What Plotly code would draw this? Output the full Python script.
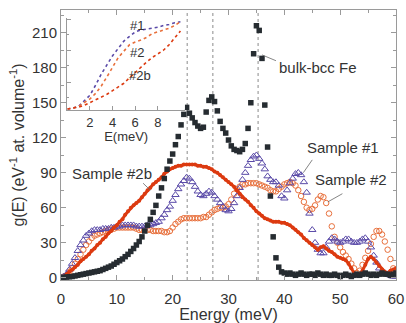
import plotly.graph_objects as go

# ---------------- data ----------------
energy = [i * 0.5 for i in range(121)]  # 0 ... 60 meV, 0.5 meV steps

bulk_fe = [0, 0.3, 0.5, 0.8, 1, 1.5, 2, 2.5, 3, 3.5, 4, 4.5, 5, 5.5, 6, 7, 8, 9, 10, 11.5,
           13, 14.5, 16, 18, 20, 22.5, 25, 28, 31, 35, 40, 45, 50, 56, 62, 70, 77, 85, 93, 100,
           106, 114, 121, 131, 140, 146, 141, 137, 133, 130, 128, 129, 142, 152, 155, 151, 143, 134, 128, 124,
           118, 113, 110, 109, 108, 110, 115, 128, 150, 192, 216, 212, 188, 148, 112, 70, 35, 17, 9, 5,
           4, 3, 4, 3, 2, 3, 4, 3, 2, 3, 3, 2, 4, 3, 2, 3, 2, 2, 3, 2,
           1, 2, 3, 2, 1, 2, 3, 2, 3, 4, 3, 2, 3, 2, 3, 4, 3, 3, 2, 3, 4]

sample1 = [0, 1, 3, 7, 12, 17, 23, 28, 32, 36, 38, 40, 41, 41, 41, 42, 42, 42, 43, 43,
           44, 44, 45, 45, 45, 45, 45, 44, 44, 44, 44, 45, 45, 46, 47, 48, 51, 54, 58, 61,
           66, 71, 76, 80, 83, 86, 85, 82, 78, 74, 71, 70, 72, 74, 73, 70, 67, 64, 61, 58,
           57, 59, 64, 70, 77, 84, 90, 96, 101, 104, 105, 102, 98, 93, 87, 84, 82, 82, 79, 70,
           68, 75, 81, 85, 89, 90, 88, 82, 73, 55, 41, 30, 24, 21, 21, 26, 31, 34, 33, 31,
           30, 31, 33, 33, 31, 30, 30, 31, 33, 34, 31, 26, 19, 13, 8, 5, 4, 3, 2, 1, 1]

sample2 = [0, 1, 2, 5, 8, 12, 16, 20, 24, 28, 31, 34, 36, 37, 38, 39, 40, 41, 42, 42,
           43, 43, 43, 43, 43, 43, 43, 42, 41, 41, 41, 41, 41, 40, 40, 40, 40, 39, 39, 40,
           43, 46, 48, 50, 51, 51, 51, 51, 51, 51, 51, 52, 52, 54, 56, 58, 59, 60, 60, 61,
           63, 67, 72, 76, 78, 80, 80, 81, 81, 81, 81, 80, 79, 78, 77, 75, 74, 74, 76, 78,
           80, 81, 82, 81, 79, 75, 70, 65, 60, 58, 59, 62, 67, 70, 69, 64, 55, 44, 35, 30,
           26, 22, 19, 16, 12, 8, 4, 6, 11, 17, 23, 29, 35, 40, 40, 37, 31, 24, 16, 8, 4]

sample2b = [0, 1, 3, 5, 7, 9, 11, 14, 16, 18, 20, 23, 25, 28, 30, 33, 35, 38, 40, 43,
            45, 48, 50, 54, 57, 60, 62, 64, 66, 69, 72, 75, 77, 80, 82, 84, 86, 89, 91, 93,
            94, 95, 96, 96, 97, 97, 97, 97, 97, 96, 96, 95, 95, 94, 93, 91, 90, 88, 86, 84,
            82, 80, 78, 75, 72, 69, 67, 65, 62, 60, 57, 55, 53, 51, 50, 49, 48, 48, 48, 47,
            47, 46, 45, 43, 41, 39, 37, 34, 32, 30, 28, 26, 24, 26, 27, 25, 23, 22, 20, 18,
            17, 16, 15, 12, 8, 4, 2, 3, 6, 11, 16, 18, 16, 13, 10, 7, 5, 4, 6, 7, 8]

peak_lines = [22.6, 27.2, 35.3]

# inset (normalised, arbitrary units)
inset_e = [0.0, 0.5, 1.0, 1.5, 2.0, 2.5, 3.0, 3.5, 4.0, 4.5, 5.0, 5.5, 6.0, 6.5, 7.0,
           7.5, 8.0, 8.5, 9.0, 9.5, 10.0]
inset_1 = [0.01, 0.02, 0.04, 0.10, 0.16, 0.27, 0.39, 0.49, 0.59, 0.67, 0.75, 0.80, 0.85,
           0.87, 0.88, 0.89, 0.90, 0.92, 0.93, 0.95, 0.96]
inset_2 = [0.01, 0.02, 0.04, 0.08, 0.12, 0.18, 0.26, 0.36, 0.47, 0.57, 0.64, 0.71, 0.74,
           0.76, 0.79, 0.83, 0.85, 0.87, 0.89, 0.92, 0.96]
inset_2b = [0.01, 0.02, 0.03, 0.05, 0.08, 0.11, 0.14, 0.17, 0.21, 0.25, 0.29, 0.35, 0.41,
            0.47, 0.52, 0.57, 0.61, 0.65, 0.71, 0.78, 0.86]

x_ticks = [0, 10, 20, 30, 40, 50, 60]
y_ticks = [0, 30, 60, 90, 120, 150, 180, 210]
inset_ticks = [2, 4, 6, 8]

# ---------------- styles ----------------
C_BULK = "#262c31"
C_S1 = "#5a4aa8"
C_S2 = "#e8703c"
C_S2B = "#dc3a10"
AX = "#9a9a9a"
TXT = "#333333"
FONT = "Liberation Sans, Arial, sans-serif"

fig = go.Figure()

fig.add_trace(go.Scatter(x=energy, y=sample2, mode="markers",
                         marker=dict(symbol="circle-open", size=5.5, color=C_S2,
                                     line=dict(width=1, color=C_S2)), showlegend=False))
fig.add_trace(go.Scatter(x=energy, y=sample1, mode="markers",
                         marker=dict(symbol="triangle-up-open", size=6.5, color=C_S1,
                                     line=dict(width=1, color=C_S1)), showlegend=False))
fig.add_trace(go.Scatter(x=energy, y=sample2b, mode="lines+markers",
                         line=dict(color=C_S2B, width=3),
                         marker=dict(symbol="circle", size=4, color=C_S2B), showlegend=False))
fig.add_trace(go.Scatter(x=energy, y=bulk_fe, mode="markers",
                         marker=dict(symbol="square", size=5.5, color=C_BULK), showlegend=False))

# inset traces
fig.add_trace(go.Scatter(x=inset_e, y=inset_1, mode="lines", xaxis="x2", yaxis="y2",
                         line=dict(color=C_S1, width=1.6, dash="dot"), showlegend=False))
fig.add_trace(go.Scatter(x=inset_e, y=inset_2, mode="lines", xaxis="x2", yaxis="y2",
                         line=dict(color=C_S2, width=1.6, dash="dot"), showlegend=False))
fig.add_trace(go.Scatter(x=inset_e, y=inset_2b, mode="lines", xaxis="x2", yaxis="y2",
                         line=dict(color=C_S2B, width=1.6, dash="dot"), showlegend=False))

shapes = []
for e in peak_lines:
    shapes.append(dict(type="line", xref="x", yref="paper", x0=e, x1=e, y0=0, y1=1,
                       line=dict(color="#8a8a8a", width=1, dash="dot"), layer="below"))

# label pointer lines
pointers = [(36.0, 191, 38.5, 186), (45.0, 101, 43.4, 90), (50.4, 72, 47.8, 65),
            (14.7, 81, 16.0, 75)]
for x0, y0, x1, y1 in pointers:
    shapes.append(dict(type="line", xref="x", yref="y", x0=x0, y0=y0, x1=x1, y1=y1,
                       line=dict(color="#666666", width=0.8)))

annotations = [
    dict(x=46.0, y=180, text="bulk-bcc Fe"),
    dict(x=50.5, y=112, text="Sample #1"),
    dict(x=52.0, y=84, text="Sample #2"),
    dict(x=9.1, y=89, text="Sample #2b"),
]
annotations = [dict(a, xref="x", yref="y", showarrow=False,
                    font=dict(family=FONT, size=15, color=TXT)) for a in annotations]
for x, y, t in [(6.2, 0.92, "#1"), (6.2, 0.63, "#2"), (6.4, 0.38, "#2b")]:
    annotations.append(dict(x=x, y=y, xref="x2", yref="y2", text=t, showarrow=False,
                            font=dict(family=FONT, size=13, color=TXT)))

fig.update_layout(
    width=406, height=323,
    margin=dict(l=61, r=10, t=10, b=43),
    paper_bgcolor="white", plot_bgcolor="white",
    font=dict(family=FONT, color=TXT),
    shapes=shapes, annotations=annotations,
    xaxis=dict(range=[0, 60], tickvals=x_ticks, ticks="inside", ticklen=5, automargin=False,
               tickcolor=AX, showline=True, linecolor=AX, mirror="ticks", showgrid=False,
               zeroline=False, tickfont=dict(size=15, color=TXT), ticklabelstandoff=5,
               minor=dict(dtick=5, ticks="inside", ticklen=3, tickcolor=AX),
               title=dict(text="Energy (meV)", font=dict(size=16, color=TXT), standoff=6)),
    yaxis=dict(range=[-2, 229.5], tickvals=y_ticks, ticks="inside", ticklen=5, automargin=False,
               tickcolor=AX, showline=True, linecolor=AX, mirror="ticks", showgrid=False,
               zeroline=False, tickfont=dict(size=15, color=TXT),
               minor=dict(dtick=15, ticks="inside", ticklen=3, tickcolor=AX),
               title=dict(text="g(E) (eV<sup>-1</sup> at. volume<sup>-1</sup>)",
                          font=dict(size=16, color=TXT), standoff=3)),
    xaxis2=dict(domain=[0.019, 0.37], anchor="y2", range=[0, 10.4], tickvals=inset_ticks,
                ticks="inside", ticklen=4, tickcolor=AX, showline=True, linecolor=AX,
                automargin=False,
                showgrid=False, zeroline=False, tickfont=dict(size=13, color=TXT),
                title=dict(text="E(meV)", font=dict(size=13, color=TXT), standoff=2)),
    yaxis2=dict(domain=[0.63, 0.97], anchor="x2", range=[0, 1], tickvals=[0.3, 0.65, 0.98],
                showticklabels=False, ticks="inside", ticklen=4, tickcolor=AX, showline=True,
                linecolor=AX, showgrid=False, zeroline=False, automargin=False,
                minor=dict(tickvals=[0.13, 0.48, 0.82], ticks="inside", ticklen=2, tickcolor=AX)),
)

fig.write_html("out.html")
